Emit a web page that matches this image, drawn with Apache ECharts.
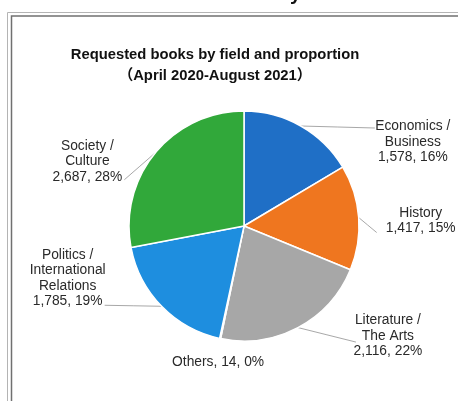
<!DOCTYPE html>
<html>
<head>
<meta charset="utf-8">
<script src="https://cdn.jsdelivr.net/npm/echarts@6/dist/echarts.min.js"></script>
<style>html,body{margin:0;padding:0;background:#fff;}#c{width:458px;height:401px;}</style>
</head>
<body>
<div id="c"></div>
<script>
// ---- data ----
var categories = ['Economics /\nBusiness', 'History', 'Literature /\nThe Arts', 'Others', 'Politics /\nInternational\nRelations', 'Society /\nCulture'];
var values = [1578, 1417, 2116, 14, 1785, 2687];
var colors = ['#1f6fc6', '#ef761f', '#a7a7a7', '#8c8c8c', '#1e8edf', '#31a83a'];
var titleLines = ['Requested books by field and proportion', '\uFF08April 2020-August 2021\uFF09'];

// label placement offsets relative to the slice edge point (styling only)
var labelOffsets = [
  { lx: 112, ly: 16, ex: 74, ey: 2 },
  { lx: 62, ly: 3, ex: 18, ey: 15 },
  { lx: 90, ly: 8.5, ex: 58, ey: 14.5 },
  { lx: -2, ly: 23.5, ex: null, ey: null },
  { lx: -94, ly: -28, ex: -57, ey: -1 },
  { lx: -68, ly: 9, ex: -31, ey: 27 }
];

var FONT = "'Liberation Sans', Arial, 'Noto Sans CJK JP', sans-serif";
var chart = echarts.init(document.getElementById('c'), null, { renderer: 'canvas' });

var data = categories.map(function (c, i) {
  var item = { name: c, value: values[i], itemStyle: { color: colors[i] } };
  if (i === 3) { item.labelLine = { show: false }; }
  return item;
});

chart.setOption({
  animation: false,
  backgroundColor: '#ffffff',
  title: {
    text: titleLines.join('\n'),
    left: 210,
    top: 39,
    textAlign: 'center',
    textStyle: { fontFamily: FONT, fontSize: 14.8, fontWeight: 'bold', color: '#111', lineHeight: 21 }
  },
  graphic: [
    { type: 'rect', silent: true, shape: { x: 7.5, y: 12.5, width: 600, height: 500 }, style: { fill: 'none', stroke: '#b4b4b4', lineWidth: 1 } },
    { type: 'rect', silent: true, shape: { x: 11.5, y: 16, width: 600, height: 500 }, style: { fill: 'none', stroke: '#707070', lineWidth: 1.5 } },
    { type: 'text', silent: true, x: 290, y: -6, style: { text: 'y', fontFamily: FONT, fontSize: 20, fontWeight: 'bold', fill: '#111', verticalAlign: 'middle' } }
  ],
  series: [{
    type: 'pie',
    center: [244, 226],
    radius: 115,
    startAngle: 90,
    clockwise: true,
    avoidLabelOverlap: false,
    itemStyle: { borderColor: '#ffffff', borderWidth: 1.5 },
    label: {
      show: true,
      position: 'outside',
      fontFamily: FONT,
      fontSize: 13.8,
      lineHeight: 15.5,
      color: '#2a2a2a',
      formatter: function (p) {
        var v = p.value.toLocaleString('en-US');
        var pct = Math.round(p.percent) + '%';
        if (p.dataIndex === 3) { return p.name + ', ' + v + ', ' + pct; }
        return p.name + '\n' + v + ', ' + pct;
      }
    },
    labelLine: { show: true, length: 5, length2: 10, lineStyle: { color: '#a8a8a8', width: 1 } },
    labelLayout: function (params) {
      var o = labelOffsets[params.dataIndex];
      var pts = params.labelLinePoints;
      var p0 = pts && pts[0] ? pts[0] : [params.labelRect.x, params.labelRect.y];
      var res = {
        x: p0[0] + o.lx,
        y: p0[1] + o.ly,
        align: 'center',
        verticalAlign: 'middle'
      };
      if (o.ex !== null) {
        var e = [p0[0] + o.ex, p0[1] + o.ey];
        res.labelLinePoints = [[p0[0], p0[1]], [(p0[0] + e[0]) / 2, (p0[1] + e[1]) / 2], e];
      }
      return res;
    },
    data: data
  }]
});
</script>
</body>
</html>
